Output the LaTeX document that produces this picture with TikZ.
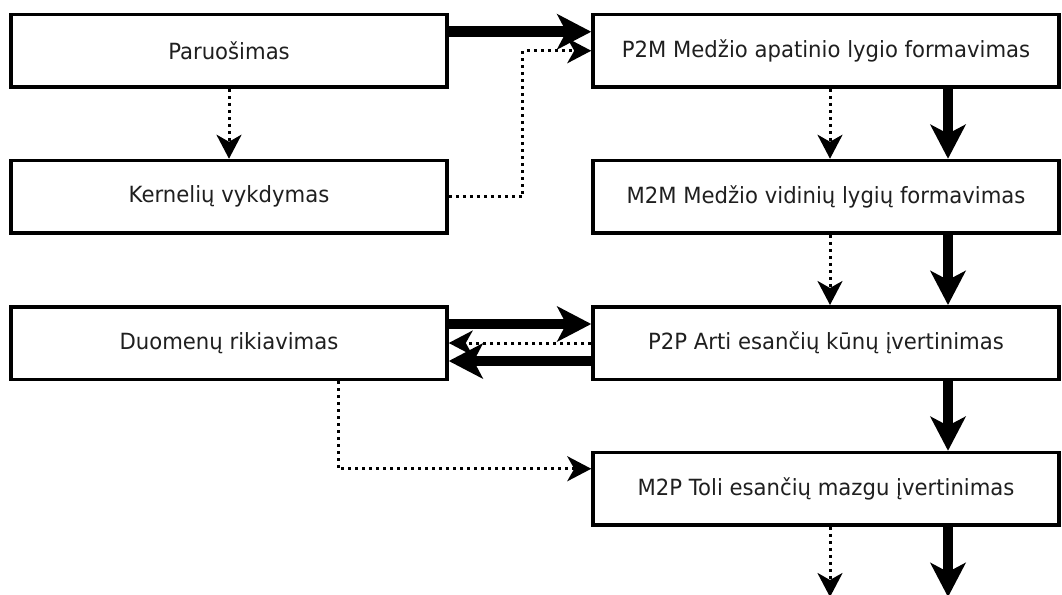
\documentclass[tikz,border=0pt]{standalone}
\usepackage{fontspec}
\setmainfont[FakeStretch=0.95]{DejaVu Sans}
\usetikzlibrary{arrows.meta}

\tikzset{
  stage/.style={draw=black, line width=3.5pt, fill=white, rectangle,
    minimum height=72.5pt, inner sep=0pt, text=black!88,
    font=\fontsize{22.3}{26}\selectfont},
  leftstage/.style={stage, minimum width=436pt},
  rightstage/.style={stage, minimum width=466pt},
  flow/.style={line width=10.5pt,
    -{Stealth[length=34pt, width=35pt, inset=9pt]}},
  dep/.style={line width=3pt, dash pattern=on 3pt off 4pt,
    -{Stealth[length=24pt, width=25pt, inset=7pt]}},
}

\begin{document}
\begin{tikzpicture}[x=1pt, y=-1pt]
  \useasboundingbox (0,0) rectangle (1062,594);

  % left column
  \node[leftstage] (prep) at (229,50.75) {Paruošimas};
  \node[leftstage] (kern) at (229,196.75) {Kernelių vykdymas};
  \node[leftstage] (sort) at (229,343) {Duomenų rikiavimas};

  % right column
  \node[rightstage] (p2m) at (826,50.75) {P2M Medžio apatinio lygio formavimas};
  \node[rightstage] (m2m) at (826,196.75) {M2M Medžio vidinių lygių formavimas};
  \node[rightstage] (p2p) at (826,343) {P2P Arti esančių kūnų įvertinimas};
  \node[rightstage] (m2p) at (826,488.75) {M2P Toli esančių mazgu įvertinimas};

  % open ends below the last stage
  \coordinate (outdep) at (830,597);
  \coordinate (outflow) at (948,597);

  % main flow
  \draw[flow] ([yshift=19pt]prep.east) -- ([yshift=19pt]p2m.west);
  \draw[flow] ([xshift=122pt]p2m.south) -- ([xshift=122pt]m2m.north);
  \draw[flow] ([xshift=122pt]m2m.south) -- ([xshift=122pt]p2p.north);
  \draw[flow] ([yshift=19pt]sort.east) -- ([yshift=19pt]p2p.west);
  \draw[flow] ([yshift=-18pt]p2p.west) -- ([yshift=-18pt]sort.east);
  \draw[flow] ([xshift=122pt]p2p.south) -- ([xshift=122pt]m2p.north);
  \draw[flow] ([xshift=122pt]m2p.south) -- (outflow);

  % dependencies
  \draw[dep] (prep.south) -- (kern.north);
  \draw[dep] (kern.east) -- ([xshift=74pt]kern.east) |- (p2m.west);
  \draw[dep] ([xshift=4pt]p2m.south) -- ([xshift=4pt]m2m.north);
  \draw[dep] ([xshift=4pt]m2m.south) -- ([xshift=4pt]p2p.north);
  \draw[dep] (p2p.west) -- (sort.east);
  \draw[dep] ([xshift=109pt]sort.south) |- ([yshift=20pt]m2p.west);
  \draw[dep] ([xshift=4pt]m2p.south) -- (outdep);
\end{tikzpicture}
\end{document}
